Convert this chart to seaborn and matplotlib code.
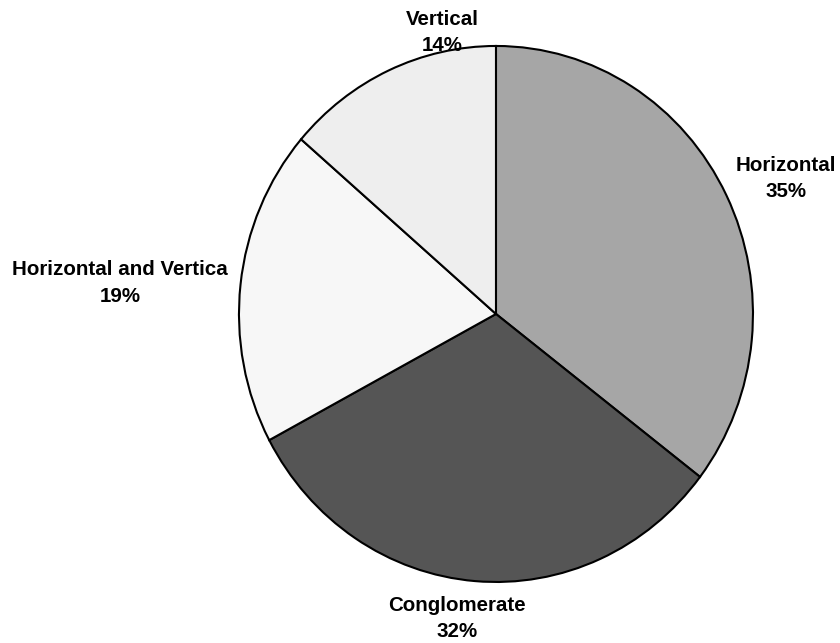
import matplotlib
matplotlib.use("Agg")
import matplotlib.pyplot as plt
import seaborn as sns

categories = ["Horizontal", "Conglomerate", "Horizontal and Vertica", "Vertical"]
shares = [35.4, 31.8, 19.1, 13.7]
colors = ["#a6a6a6", "#555555", "#f7f7f7", "#eeeeee"]
# label centres in pie units (x, y), radius = 1
label_pos = [(1.128, 0.505), (-0.152, -1.137), (-1.463, 0.116), (-0.210, 1.050)]

sns.set_theme(style="white")
plt.rcParams['font.family'] = ['Liberation Sans', 'DejaVu Sans']

fig = plt.figure(figsize=(8.4, 6.43), dpi=100)
# the pie in the reference is slightly taller than wide
ax = fig.add_axes([0.2845, 0.0949, 0.6119, 0.8336])
ax.pie(shares, colors=colors, startangle=90, counterclock=False,
       wedgeprops=dict(edgecolor="black", linewidth=1.5))
ax.set_aspect('auto')
ax.set_xlim(-1, 1)
ax.set_ylim(-1, 1)

total = sum(shares)
for name, val, (lx, ly) in zip(categories, shares, label_pos):
    ax.text(lx, ly, f"{name}\n{val / total * 100:.0f}%", ha='center', va='center',
            fontsize=14.8, fontweight='bold', color='black', linespacing=1.5,
            clip_on=False)

fig.savefig("out.png", dpi=100)
plt.close(fig)
